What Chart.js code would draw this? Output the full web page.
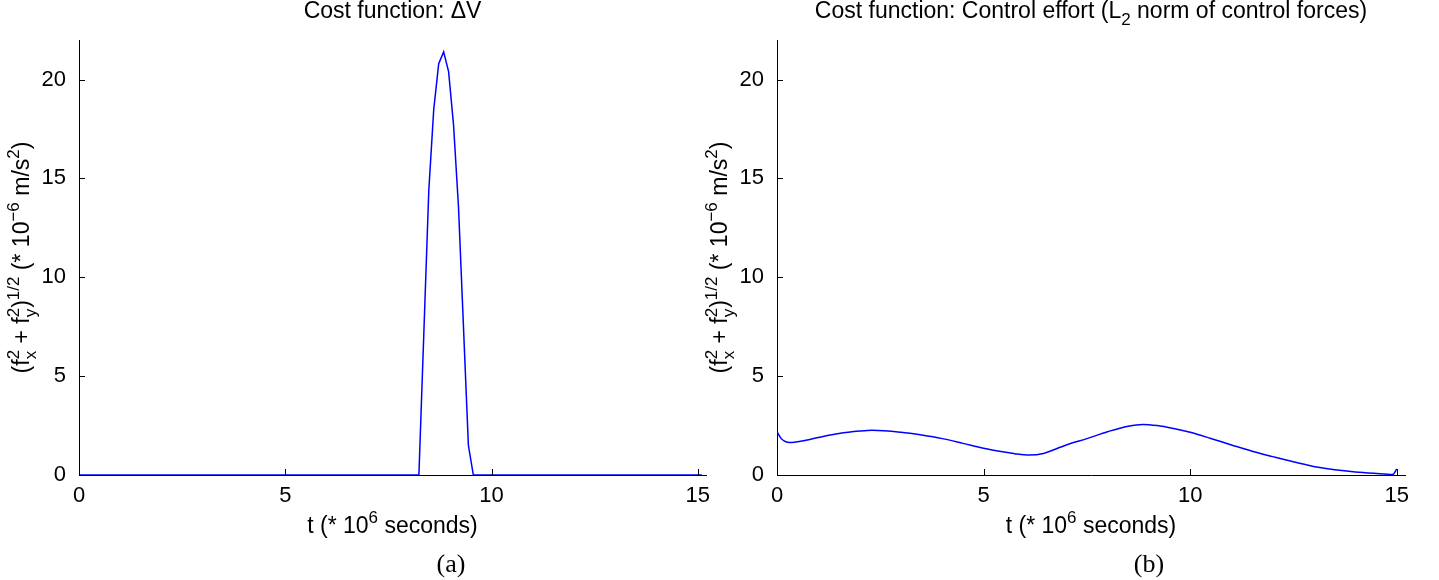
<!DOCTYPE html>
<html>
<head>
<meta charset="utf-8">
<script src="https://cdn.jsdelivr.net/npm/chart.js@4.4.1/dist/chart.umd.min.js"></script>
<style>
  body { margin: 0; background: #fff; width: 1439px; height: 580px; position: relative; overflow: hidden; }
  canvas { position: absolute; top: 0; }
</style>
</head>
<body>
<canvas id="chartA" width="720" height="580" style="left:0"></canvas>
<canvas id="chartB" width="749" height="580" style="left:690px"></canvas>
<script>
// panel (a): cost function delta-V, thrust magnitude vs time
const tA = [0, 8.24, 8.48, 8.60, 8.72, 8.84, 8.96, 9.08, 9.20, 9.44, 9.56, 15.1];
const fA = [0, 0, 14.4, 18.5, 20.8, 21.4, 20.4, 17.7, 13.55, 1.5, 0, 0];

// panel (b): cost function control effort
const tB = [0, 0.1, 0.31, 0.6, 1.0, 1.5, 2.0, 2.3, 3.0, 3.5, 4.0, 4.5, 5.0, 5.5, 5.75, 6.1, 6.45, 6.7, 7.0, 7.5, 8.0, 8.5,
            8.85, 9.2, 9.6, 10.0, 10.5, 11.0, 11.5, 12.0, 12.6, 13.1, 13.5, 14.0, 14.7, 14.9, 15.0];
const fB = [2.19, 1.85, 1.65, 1.72, 1.9, 2.1, 2.22, 2.26, 2.16, 2.02, 1.84, 1.6, 1.35, 1.16, 1.08, 1.01, 1.09, 1.28, 1.52, 1.84, 2.19, 2.47,
            2.56, 2.5, 2.35, 2.16, 1.85, 1.52, 1.2, 0.93, 0.62, 0.39, 0.26, 0.15, 0.05, 0.02, 0.3];

const xTicks = [0, 5, 10, 15];
const yTicks = [0, 5, 10, 15, 20];

const FONT = '"Liberation Sans", Arial, sans-serif';

// strings are normal text, arrays are [superscript, subscript]
const yLabel = ['(f', ['2', 'x'], ' + f', ['2', 'y'], ')', ['1/2', null], ' (* 10', ['\u22126', null], ' m/s', ['2', null], ')'];
const xLabel = ['t (* 10', ['6', null], ' seconds)'];

function drawRich(ctx, parts, size, x, y) {
  const small = Math.round(size * 0.75);
  const widths = parts.map(p => {
    if (typeof p === 'string') {
      ctx.font = size + 'px ' + FONT;
      return ctx.measureText(p).width;
    }
    ctx.font = small + 'px ' + FONT;
    return Math.max(p[0] ? ctx.measureText(p[0]).width : 0, p[1] ? ctx.measureText(p[1]).width : 0);
  });
  let cx = x - widths.reduce((a, b) => a + b, 0) / 2;
  ctx.textAlign = 'left';
  ctx.textBaseline = 'alphabetic';
  ctx.fillStyle = '#000';
  parts.forEach((p, i) => {
    if (typeof p === 'string') {
      ctx.font = size + 'px ' + FONT;
      ctx.fillText(p, cx, y);
    } else {
      ctx.font = small + 'px ' + FONT;
      if (p[0]) ctx.fillText(p[0], cx, y - size * 0.45);
      if (p[1]) ctx.fillText(p[1], cx, y + size * 0.3);
    }
    cx += widths[i];
  });
}

const decorations = {
  id: 'decorations',
  afterDraw(chart, args, opts) {
    const ctx = chart.ctx;
    const area = chart.chartArea;
    const mid = (area.left + area.right) / 2;
    ctx.save();
    // inward tick marks
    ctx.strokeStyle = '#000';
    ctx.lineWidth = 1;
    ctx.beginPath();
    chart.scales.x.ticks.forEach(t => {
      const px = Math.round(chart.scales.x.getPixelForValue(t.value)) + 0.5;
      ctx.moveTo(px, area.bottom);
      ctx.lineTo(px, area.bottom - 6);
    });
    chart.scales.y.ticks.forEach(t => {
      const py = Math.round(chart.scales.y.getPixelForValue(t.value)) + 0.5;
      ctx.moveTo(area.left, py);
      ctx.lineTo(area.left + 6, py);
    });
    ctx.stroke();

    drawRich(ctx, opts.title, 23, mid, 18);
    drawRich(ctx, xLabel, 23, mid, 533);

    ctx.save();
    ctx.translate(area.left - 50, (area.top + area.bottom) / 2);
    ctx.rotate(-Math.PI / 2);
    drawRich(ctx, yLabel, 23, 0, 0);
    ctx.restore();

    ctx.font = '26px "Liberation Serif", "Times New Roman", serif';
    ctx.textAlign = 'center';
    ctx.fillText(opts.caption, area.left + 372, 572);
    ctx.restore();
  }
};

function makeChart(id, t, f, yWidth, rightPad, title, caption, smooth) {
  const ctx = document.getElementById(id).getContext('2d');
  return new Chart(ctx, {
    type: 'line',
    data: {
      datasets: [{
        data: t.map((v, i) => ({ x: v, y: f[i] })),
        borderColor: '#0000ff',
        borderWidth: 1.5,
        pointRadius: 0,
        tension: 0,
        cubicInterpolationMode: smooth ? 'monotone' : 'default',
        fill: false
      }]
    },
    options: {
      responsive: false,
      animation: false,
      events: [],
      layout: { padding: { top: 40, right: rightPad, bottom: 65, left: 0 } },
      plugins: {
        legend: { display: false },
        tooltip: { enabled: false },
        decorations: { title: title, caption: caption }
      },
      scales: {
        x: {
          type: 'linear',
          min: 0,
          max: 15.2,
          afterBuildTicks: s => { s.ticks = xTicks.map(v => ({ value: v })); },
          afterFit: s => { s.height = 40; s.paddingLeft = 0; s.paddingRight = 0; },
          grid: { display: false },
          border: { display: true, color: '#000', width: 1 },
          ticks: { color: '#000', font: { family: FONT, size: 22 }, padding: 0, maxRotation: 0, autoSkip: false }
        },
        y: {
          type: 'linear',
          min: 0,
          max: 22,
          afterBuildTicks: s => { s.ticks = yTicks.map(v => ({ value: v })); },
          afterFit: s => { s.width = yWidth; s.paddingTop = 0; s.paddingBottom = 0; },
          grid: { display: false },
          border: { display: true, color: '#000', width: 1 },
          ticks: { color: '#000', font: { family: FONT, size: 22 }, padding: 5 }
        }
      }
    },
    plugins: [decorations]
  });
}

makeChart('chartA', tA, fA, 79, 14, ['Cost function: \u0394V'], '(a)', false);
makeChart('chartB', tB, fB, 87, 34,
  ['Cost function: Control effort (L', [null, '2'], ' norm of control forces)'], '(b)', true);
</script>
</body>
</html>
